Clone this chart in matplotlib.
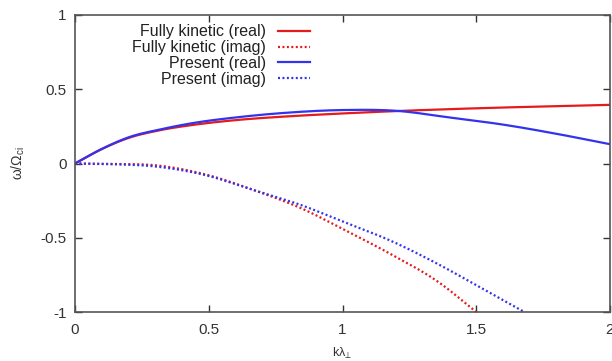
import matplotlib
matplotlib.use("Agg")
import matplotlib.pyplot as plt
import numpy as np

plt.rcParams['font.family'] = ['Liberation Sans', 'DejaVu Sans']

# Data
k_real = [0.0, 0.1, 0.2, 0.32, 0.45, 0.6, 0.8, 1.0, 1.2, 1.4, 1.6, 1.8, 2.0]
fk_real = [0.0, 0.097, 0.172, 0.225, 0.262, 0.292, 0.318, 0.337, 0.353, 0.366, 0.377, 0.386, 0.395]
pr_real = [0.0, 0.098, 0.176, 0.23, 0.275, 0.31, 0.343, 0.36, 0.355, 0.31, 0.262, 0.2, 0.13]

k_imag_fk = [0.0, 0.15, 0.3, 0.48, 0.67, 0.85, 1.0, 1.18, 1.36, 1.5]
fk_imag = [0.0, -0.003, -0.012, -0.07, -0.18, -0.305, -0.44, -0.61, -0.80, -1.0]
k_imag_pr = [0.0, 0.15, 0.3, 0.48, 0.67, 0.85, 1.0, 1.18, 1.36, 1.53, 1.68]
pr_imag = [0.0, -0.005, -0.02, -0.075, -0.18, -0.283, -0.39, -0.52, -0.68, -0.85, -1.0]

labels = ["Fully kinetic (real)", "Fully kinetic (imag)", "Present (real)", "Present (imag)"]
xticks = [0, 0.5, 1, 1.5, 2]
xticklabels = ["0", "0.5", "1", "1.5", "2"]
yticks = [-1, -0.5, 0, 0.5, 1]
yticklabels = ["-1", "-0.5", "0", "0.5", "1"]

red = "#e41a1c"
blue = "#3333ee"

fig = plt.figure(figsize=(6.12, 3.61), dpi=100)
ax = fig.add_axes([75/612, 1 - 312/361, 535/612, 297/361])

def smooth(x, y, n=200):
    x = np.asarray(x); y = np.asarray(y)
    xs = np.linspace(x[0], x[-1], n)
    d = np.gradient(y, x)
    ys = np.empty_like(xs)
    for i, xv in enumerate(xs):
        j = min(np.searchsorted(x, xv, side='right') - 1, len(x) - 2)
        h = x[j+1] - x[j]
        t = (xv - x[j]) / h
        h00 = 2*t**3 - 3*t**2 + 1
        h10 = t**3 - 2*t**2 + t
        h01 = -2*t**3 + 3*t**2
        h11 = t**3 - t**2
        ys[i] = h00*y[j] + h10*h*d[j] + h01*y[j+1] + h11*h*d[j+1]
    return xs, ys

lw = 1.6
dots = (0, (0.9, 1.1))
ax.plot(*smooth(k_real, fk_real), color=red, lw=lw, label=labels[0])
ax.plot(*smooth(k_imag_fk, fk_imag), color=red, lw=lw, ls=dots, label=labels[1])
ax.plot(*smooth(k_real, pr_real), color=blue, lw=lw, label=labels[2])
ax.plot(*smooth(k_imag_pr, pr_imag), color=blue, lw=lw, ls=dots, label=labels[3])

ax.set_xlim(0, 2)
ax.set_ylim(-1, 1)
ax.set_xticks(xticks)
ax.set_xticklabels(xticklabels)
ax.set_yticks(yticks)
ax.set_yticklabels(yticklabels)
ax.tick_params(direction='in', length=5, top=True, right=True, labelsize=11,
               colors='#333333', width=1)
for s in ax.spines.values():
    s.set_color('#555555')
    s.set_linewidth(1.2)
ax.tick_params(axis='x', pad=8)
ax.tick_params(axis='y', pad=6)

ax.set_ylabel(r"ω/Ω$_{\mathregular{ci}}$", fontsize=10, color='#333333', labelpad=10)
ax.set_xlabel(r"kλ$_{\mathregular{⊥}}$", fontsize=9, color='#333333', labelpad=6)

leg = ax.legend(loc='upper right', bbox_to_anchor=(0.4505, 0.99), frameon=False,
                markerfirst=False, fontsize=11.5, handlelength=2.0, handletextpad=0.75,
                labelspacing=0.05, borderaxespad=0.0)
for t in leg.get_texts():
    t.set_ha('right')
    t.set_color('#222222')

fig.savefig("out.png", dpi=100)
